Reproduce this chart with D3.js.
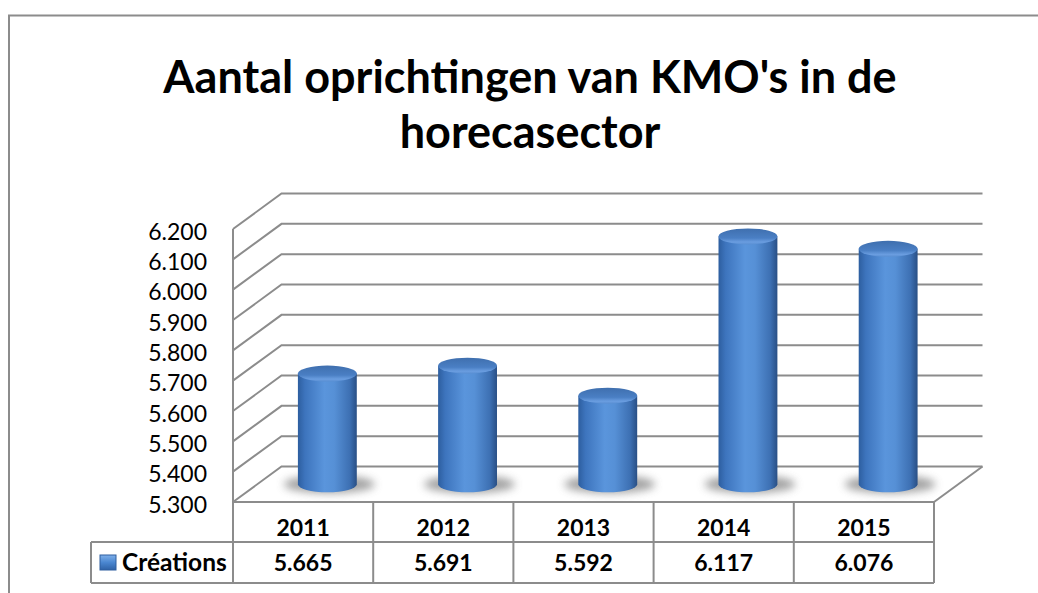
<!DOCTYPE html>
<html>
<head>
<meta charset="utf-8">
<script src="https://cdn.jsdelivr.net/npm/d3@7"></script>
<style>
html,body{margin:0;padding:0;background:#fff;}
svg{display:block;}
text{font-family:Lato,"Open Sans",sans-serif;fill:#000;}
</style>
</head>
<body>
<svg id="chart" width="1038" height="593"></svg>
<script>
const titleLines = ["Aantal oprichtingen van KMO's in de", "horecasector"];
const categories = ["2011", "2012", "2013", "2014", "2015"];
const seriesName = "Créations";
const values = [5665, 5691, 5592, 6117, 6076];
const valueLabels = ["5.665", "5.691", "5.592", "6.117", "6.076"];
const tickValues = [5300, 5400, 5500, 5600, 5700, 5800, 5900, 6000, 6100, 6200];
const tickLabels = ["5.300", "5.400", "5.500", "5.600", "5.700", "5.800", "5.900", "6.000", "6.100", "6.200"];

const svg = d3.select("#chart");
const W = 1038, H = 593;
const grid = "#8c8c8c";

// outer frame
svg.append("path").attr("d", `M9,${H} L9,15.5 L${W},15.5`)
  .attr("fill", "none").attr("stroke", grid).attr("stroke-width", 2);

// title
svg.append("g").selectAll("text").data(titleLines).join("text")
  .attr("x", 530).attr("y", (d, i) => 93 + i * 55)
  .attr("text-anchor", "middle").attr("font-size", 45).attr("font-weight", "bold")
  .text(d => d);

// scales
const x = d3.scaleBand().domain(categories).range([233, 934]).padding(0);
const y = d3.scaleLinear().domain([5300, 6200]).range([502, 229]);
const DX = 48.5, DY = -35.5;

// defs
const defs = svg.append("defs");
const bodyGrad = defs.append("linearGradient").attr("id", "bodyGrad").attr("x1", "0").attr("x2", "1").attr("y1", "0").attr("y2", "0");
[[0, "#2d5e9f"], [0.12, "#3d74bd"], [0.45, "#5a95dc"], [0.62, "#5690d6"], [0.88, "#3d70b3"], [1, "#294f85"]]
  .forEach(([o, c]) => bodyGrad.append("stop").attr("offset", o).attr("stop-color", c));
const capGrad = defs.append("linearGradient").attr("id", "capGrad").attr("x1", "0").attr("x2", "0").attr("y1", "0").attr("y2", "1");
[[0, "#3f6fae"], [0.6, "#4a7fc4"], [0.85, "#6a9de0"], [1, "#5a8fd2"]]
  .forEach(([o, c]) => capGrad.append("stop").attr("offset", o).attr("stop-color", c));
defs.append("filter").attr("id", "blur").attr("x", "-50%").attr("y", "-100%").attr("width", "200%").attr("height", "300%")
  .append("feGaussianBlur").attr("stdDeviation", 4);
const legGrad = defs.append("linearGradient").attr("id", "legGrad").attr("x1", "0").attr("x2", "0").attr("y1", "0").attr("y2", "1");
[[0, "#7fb0ea"], [0.5, "#4a86d0"], [1, "#2f62a6"]]
  .forEach(([o, c]) => legGrad.append("stop").attr("offset", o).attr("stop-color", c));

// walls: back gridlines + side diagonals
const x0 = x.range()[0], x1 = x.range()[1];
const gl = svg.append("g").attr("stroke", grid).attr("stroke-width", 2).attr("fill", "none");
tickValues.forEach(t => {
  const yf = y(t);
  gl.append("path").attr("d", `M${x0},${yf} L${x0 + DX},${yf + DY} L${x1 + DX},${yf + DY}`);
});
gl.append("line").attr("x1", x0).attr("x2", x0).attr("y1", y(6200)).attr("y2", y(5300));
gl.append("line").attr("x1", x1).attr("y1", y(5300)).attr("x2", x1 + DX).attr("y2", y(5300) + DY);

// tick labels
svg.append("g").selectAll("text").data(tickValues).join("text")
  .attr("x", 207).attr("y", d => y(d) + 10.5).attr("text-anchor", "end")
  .attr("font-size", 23).text((d, i) => tickLabels[i]);

// bars (cylinders) at mid depth
const bw = x.bandwidth() * 0.42, rx = bw / 2, ry = 8;
const bars = svg.append("g").selectAll("g").data(values).join("g");
bars.each(function (v, i) {
  const g = d3.select(this);
  const cx = x(categories[i]) + x.bandwidth() / 2 + DX / 2;
  const yb = y(5300) + DY / 2;
  const yt = y(v) + DY / 2;
  g.append("ellipse").attr("cx", cx + 2).attr("cy", yb).attr("rx", rx + 16).attr("ry", ry + 1)
    .attr("fill", "#8a8a8a").attr("opacity", 0.8).attr("filter", "url(#blur)");
  g.append("path")
    .attr("d", `M${cx - rx},${yt} L${cx - rx},${yb} A${rx},${ry} 0 0 0 ${cx + rx},${yb} L${cx + rx},${yt} Z`)
    .attr("fill", "url(#bodyGrad)");
  g.append("ellipse").attr("cx", cx).attr("cy", yt).attr("rx", rx).attr("ry", ry)
    .attr("fill", "url(#capGrad)");
});

// data table
const tg = svg.append("g").attr("stroke", grid).attr("stroke-width", 2).attr("fill", "none");
const rTop = y(5300), rMid = 542, rBot = 583, legL = 91;
tg.append("path").attr("d", `M${legL},${rMid} L${x1},${rMid} M${legL},${rBot} L${x1},${rBot} M${legL},${rMid} L${legL},${rBot} M${x0},${rTop} L${x1},${rTop}`);
x.domain().forEach(c => tg.append("line").attr("x1", x(c)).attr("x2", x(c)).attr("y1", rTop).attr("y2", rBot));
tg.append("line").attr("x1", x1).attr("x2", x1).attr("y1", rTop).attr("y2", rBot);

svg.append("g").selectAll("text").data(categories).join("text")
  .attr("x", d => x(d) + x.bandwidth() / 2).attr("y", 536).attr("text-anchor", "middle")
  .attr("font-size", 23).attr("font-weight", "bold").text(d => d);
svg.append("g").selectAll("text").data(valueLabels).join("text")
  .attr("x", (d, i) => x(categories[i]) + x.bandwidth() / 2).attr("y", 571).attr("text-anchor", "middle")
  .attr("font-size", 23).attr("font-weight", "bold").text(d => d);

// legend key
svg.append("rect").attr("x", 100).attr("y", 555).attr("width", 16).attr("height", 15)
  .attr("fill", "url(#legGrad)").attr("stroke", "#2f5f9f").attr("stroke-width", 1);
svg.append("text").attr("x", 122).attr("y", 571).attr("font-size", 24.5).attr("font-weight", "bold").text(seriesName);
</script>
</body>
</html>
